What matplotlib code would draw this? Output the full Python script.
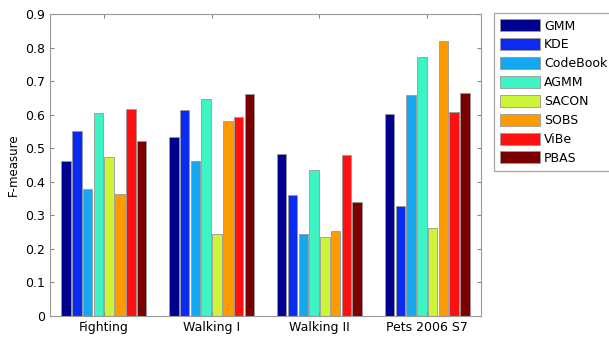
import numpy as np
import matplotlib.pyplot as plt

groups = ['Fighting', 'Walking I', 'Walking II', 'Pets 2006 S7']
methods = ['GMM', 'KDE', 'CodeBook', 'AGMM', 'SACON', 'SOBS', 'ViBe', 'PBAS']
colors = ['#00008f', '#0a2cf0', '#13a8f0', '#3df5c4', '#ccf53a', '#ff9a00', '#ff1010', '#7a0000']

gmm      = [0.463, 0.535, 0.484, 0.601]
kde      = [0.553, 0.615, 0.361, 0.329]
codebook = [0.380, 0.463, 0.244, 0.659]
agmm     = [0.605, 0.646, 0.436, 0.772]
sacon    = [0.474, 0.246, 0.235, 0.262]
sobs     = [0.365, 0.583, 0.253, 0.819]
vibe     = [0.618, 0.594, 0.479, 0.607]
pbas     = [0.523, 0.661, 0.340, 0.665]
series = [gmm, kde, codebook, agmm, sacon, sobs, vibe, pbas]

fig = plt.figure(figsize=(6.09, 3.38), dpi=100)
ax = fig.add_axes([0.082, 0.065, 0.708, 0.893])

x = np.arange(1, len(groups) + 1)
step = 0.1
for i, vals in enumerate(series):
    ax.bar(x + (i - 3.5) * step, vals, width=0.088, color=colors[i],
           edgecolor='#999999', linewidth=0.6, label=methods[i])

ax.set_xlim(0.5, 4.5)
ax.set_ylim(0, 0.9)
ax.set_yticks(np.arange(0, 0.91, 0.1))
ax.set_yticklabels(['0'] + ['%.1f' % v for v in np.arange(0.1, 0.91, 0.1)])
ax.set_xticks(x)
ax.set_xticklabels(groups)
ax.tick_params(direction='in', top=True, right=True, labelsize=9,
               color='#888888', length=3)
for s in ax.spines.values():
    s.set_color('#999999')
ax.set_ylabel('F-measure', fontsize=8.5)

fig.legend(loc='upper left', bbox_to_anchor=(494 / 609, 1 - 13 / 338),
           fontsize=9, frameon=True, fancybox=False, edgecolor='#999999',
           handlelength=3.2, handleheight=1.1, handletextpad=0.3,
           labelspacing=0.45, borderpad=0.5, borderaxespad=0)

fig.savefig('out.png', dpi=100)
